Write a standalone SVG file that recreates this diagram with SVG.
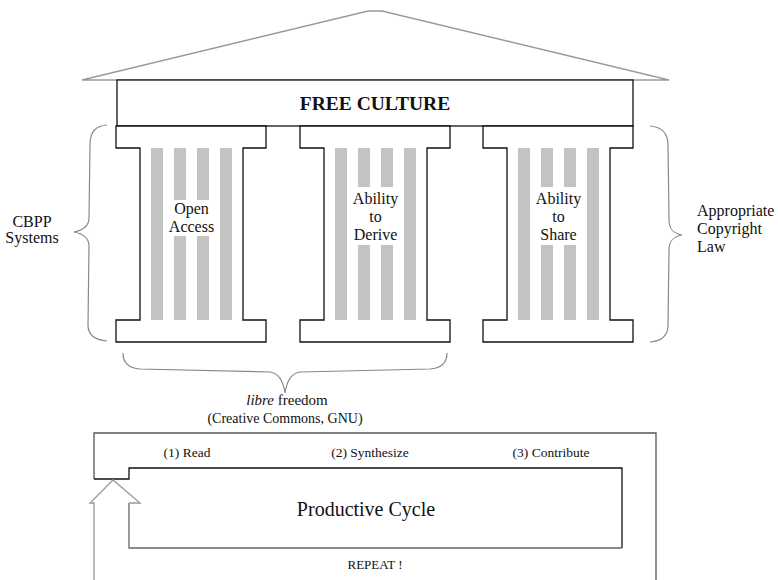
<svg xmlns="http://www.w3.org/2000/svg" width="778" height="580" viewBox="0 0 778 580" font-family="Liberation Serif, Times New Roman, serif">
<style>
text{font-family:"Liberation Serif","Times New Roman",serif;fill:#111}
.pl{fill:#fff;stroke:#111;stroke-width:1.3}
.st{fill:#c3c3c3}
.br{fill:none;stroke:#888;stroke-width:1.2}
.lb{font-size:16px;text-anchor:middle}
.sm{font-size:13.5px;text-anchor:middle}
</style>
<defs>
<path id="pillar" d="M0,0 H150 V22 H127 V194 H150 V216 H0 V194 H24 V22 H0 Z" class="pl"/>
</defs>
<rect width="778" height="580" fill="#fff"/>
<g id="roof">
<polygon points="82,80 368,11 382,11 669,80" fill="#fff" stroke="#999" stroke-width="1.3"/>
</g>
<g id="free-culture">
<rect x="117" y="80" width="516" height="46" class="pl"/>
<text x="375" y="110" font-size="19.5" font-weight="bold" text-anchor="middle">FREE CULTURE</text>
</g>
<g id="pillar-open-access">
<use href="#pillar" x="116" y="126"/>
<rect class="st" x="151" y="148" width="12" height="172"/>
<rect class="st" x="174" y="148" width="12" height="52"/>
<rect class="st" x="174" y="236" width="12" height="84"/>
<rect class="st" x="197" y="148" width="12" height="52"/>
<rect class="st" x="197" y="236" width="12" height="84"/>
<rect class="st" x="220" y="148" width="12" height="172"/>
<text class="lb" x="191.5" y="214">Open</text>
<text class="lb" x="191.5" y="232">Access</text>
</g>
<g id="pillar-derive">
<use href="#pillar" x="300" y="126"/>
<rect class="st" x="335" y="148" width="12" height="172"/>
<rect class="st" x="358" y="148" width="12" height="39"/>
<rect class="st" x="358" y="245" width="12" height="75"/>
<rect class="st" x="381" y="148" width="12" height="39"/>
<rect class="st" x="381" y="245" width="12" height="75"/>
<rect class="st" x="404" y="148" width="12" height="172"/>
<text class="lb" x="375.5" y="204">Ability</text>
<text class="lb" x="375.5" y="222">to</text>
<text class="lb" x="375.5" y="240">Derive</text>
</g>
<g id="pillar-share">
<use href="#pillar" x="483" y="126"/>
<rect class="st" x="518" y="148" width="12" height="172"/>
<rect class="st" x="541" y="148" width="12" height="39"/>
<rect class="st" x="541" y="245" width="12" height="75"/>
<rect class="st" x="564" y="148" width="12" height="39"/>
<rect class="st" x="564" y="245" width="12" height="75"/>
<rect class="st" x="587" y="148" width="12" height="172"/>
<text class="lb" x="558.5" y="204">Ability</text>
<text class="lb" x="558.5" y="222">to</text>
<text class="lb" x="558.5" y="240">Share</text>
</g>
<g id="connectors">
<path class="br" d="M107,125 C95,126 90,132 90,145 L89,218 C89,226 84,230 74,232 C84,234 89,238 89,246 L88,325 C88,335 95,340 107,341"/>
<path class="br" d="M650,126 C662,127 668,133 668,145 L669,220 C669,228 672,233 682,235 C672,237 669,242 669,250 L668,325 C668,335 662,341 650,342"/>
<path class="br" d="M123,353 C123,362 127,368 140,369 L270,372 C278,373 283,380 285,393 C287,380 292,373 300,372 L430,369 C443,368 447,362 447,353"/>
</g>
<g id="cbpp">
<text class="lb" x="32" y="227">CBPP</text>
<text class="lb" x="32" y="243">Systems</text>
</g>
<g id="copyright">
<text font-size="16" x="697" y="216">Appropriate</text>
<text font-size="16" x="697" y="234">Copyright</text>
<text font-size="16" x="697" y="252">Law</text>
</g>
<g id="libre">
<text x="287" y="405" font-size="15" text-anchor="middle"><tspan font-style="italic">libre</tspan> freedom</text>
<text x="285" y="423" font-size="14" text-anchor="middle">(Creative Commons, GNU)</text>
</g>
<g id="cycle">
<path d="M94,479 V433 H656 V580" fill="none" stroke="#555" stroke-width="1.3"/>
<path d="M94,479 H129 V468 H622 V548" fill="none" stroke="#111" stroke-width="1.3"/>
<path d="M622,548 H129 V503" fill="none" stroke="#666" stroke-width="1.3"/>
<path d="M94,580 V503 H90 L113,480 L140,503 H129" fill="none" stroke="#999" stroke-width="1.3"/>
<text class="sm" x="187" y="457">(1) Read</text>
<text class="sm" x="370" y="457">(2) Synthesize</text>
<text class="sm" x="551" y="457">(3) Contribute</text>
<text x="366" y="516" font-size="20" text-anchor="middle">Productive Cycle</text>
<text x="375" y="569" font-size="13" text-anchor="middle">REPEAT !</text>
</g>
</svg>
